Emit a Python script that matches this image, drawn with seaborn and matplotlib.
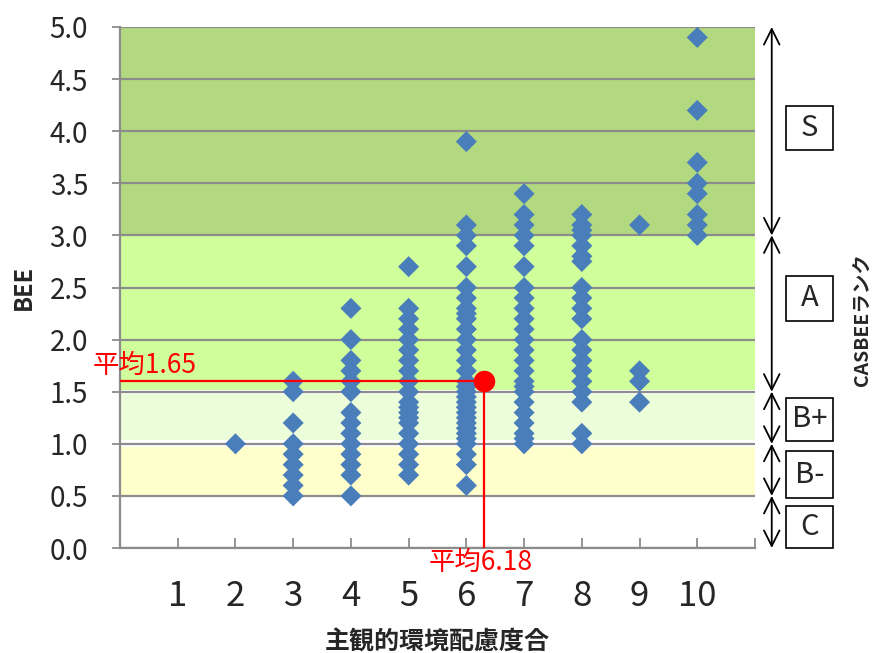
import pandas as pd
import matplotlib.pyplot as plt
from matplotlib.patches import Rectangle
import seaborn as sns

# BEE values, one list per self-rated score
bee_2 = [1.0]
bee_3 = [1.6, 1.5, 1.2, 1.0, 0.9, 0.8, 0.7, 0.6, 0.5]
bee_4 = [2.3, 2.0, 1.8, 1.7, 1.6, 1.5, 1.3, 1.2, 1.1, 1.0, 0.9, 0.8, 0.7, 0.5]
bee_5 = [2.7, 2.3, 2.2, 2.1, 2.0, 1.9, 1.8, 1.7, 1.6, 1.5, 1.4, 1.35, 1.3, 1.25,
         1.2, 1.1, 1.0, 0.9, 0.8, 0.7]
bee_6 = [3.9, 3.1, 3.0, 2.9, 2.7, 2.5, 2.4, 2.3, 2.25, 2.2, 2.1, 2.0, 1.9, 1.8,
         1.7, 1.6, 1.55, 1.5, 1.45, 1.4, 1.35, 1.3, 1.25, 1.2, 1.15, 1.1, 1.05,
         1.0, 0.9, 0.8, 0.6]
bee_7 = [3.4, 3.2, 3.1, 3.0, 2.9, 2.7, 2.5, 2.4, 2.3, 2.2, 2.1, 2.0, 1.9, 1.8,
         1.7, 1.6, 1.55, 1.5, 1.4, 1.3, 1.2, 1.1, 1.05, 1.0]
bee_8 = [3.2, 3.1, 3.05, 3.0, 2.9, 2.8, 2.75, 2.5, 2.4, 2.3, 2.2, 2.0, 1.9, 1.8,
         1.7, 1.6, 1.5, 1.4, 1.1, 1.0]
bee_9 = [3.1, 1.7, 1.6, 1.4]
bee_10 = [4.9, 4.2, 3.7, 3.5, 3.4, 3.2, 3.1, 3.0]

scores = [2, 3, 4, 5, 6, 7, 8, 9, 10]
bee_lists = [bee_2, bee_3, bee_4, bee_5, bee_6, bee_7, bee_8, bee_9, bee_10]

mean_x = 6.3
mean_y = 1.6
mean_x_label = '平均6.18'
mean_y_label = '平均1.65'

x_ticks = list(range(0, 12))
x_tick_labels = [''] + [str(i) for i in range(1, 11)] + ['']
y_ticks = [0.0, 0.5, 1.0, 1.5, 2.0, 2.5, 3.0, 3.5, 4.0, 4.5, 5.0]

# CASBEE rank bands
rank_names = ['S', 'A', 'B+', 'B-', 'C']
rank_top = [5.0, 3.0, 1.5, 1.0, 0.5]
rank_bottom = [3.0, 1.5, 1.0, 0.5, 0.0]

rows = []
for s, vals in zip(scores, bee_lists):
    for v in vals:
        rows.append({'score': s, 'BEE': v})
df = pd.DataFrame(rows)

sns.set_style('white')
plt.rcParams['font.family'] = ['Noto Sans CJK JP', 'DejaVu Sans']

fig = plt.figure(figsize=(8.74, 6.53), dpi=100)
ax = fig.add_axes([120 / 874, 105 / 653, 635 / 874, 521 / 653])

# background bands
ax.axhspan(3.0, 5.0, color='#b2d980', lw=0, zorder=0.2)
ax.axhspan(1.52, 3.0, color='#d0fe9b', lw=0, zorder=0.2)
ax.axhspan(1.04, 1.48, color='#ebfdd9', lw=0, zorder=0.2)
ax.axhspan(0.5, 0.97, color='#ffffcc', lw=0, zorder=0.2)

ax.set_axisbelow(True)
ax.yaxis.grid(True, color='#8c8c8c', lw=1.6)
ax.xaxis.grid(False)

sns.scatterplot(data=df, x='score', y='BEE', marker='D', s=115,
                color='#4a7ebb', edgecolor='none', ax=ax, zorder=3)

# mean point and guide lines
ax.plot([0, mean_x], [mean_y, mean_y], color='red', lw=1.6, zorder=4)
ax.plot([mean_x, mean_x], [mean_y, 0], color='red', lw=1.6, zorder=4)
ax.scatter([mean_x], [mean_y], s=210, color='red', zorder=5)
ax.text(1.33, mean_y + 0.02, mean_y_label, color='red', fontsize=19,
        ha='right', va='bottom')
ax.text(7.15, -0.01, mean_x_label, color='red', fontsize=19,
        ha='right', va='top')

ax.set_xlim(0, 11)
ax.set_ylim(0, 5)
ax.set_xticks(x_ticks)
ax.set_xticklabels(x_tick_labels)
ax.set_yticks(y_ticks)
ax.set_yticklabels([f'{v:.1f}' for v in y_ticks])

for side in ['top', 'right']:
    ax.spines[side].set_visible(False)
for side in ['left', 'bottom']:
    ax.spines[side].set_color('#8c8c8c')
    ax.spines[side].set_linewidth(1.6)

ax.tick_params(axis='y', direction='out', length=6, width=1.3,
               color='#8c8c8c', labelsize=20, pad=17, left=True)
ax.tick_params(axis='x', direction='in', length=7, width=1.3,
               color='#8c8c8c', labelsize=25, pad=22, bottom=True)

ax.set_xlabel('主観的環境配慮度合', fontsize=18, fontweight='bold', labelpad=12)
ax.set_ylabel('BEE', fontsize=17, fontweight='bold', labelpad=10)

# rank arrows and boxes on the right
arrow_x = 11.29
box_left = 11.54
box_width = 0.81
box_ranges = [(3.82, 4.24), (2.18, 2.61), (1.03, 1.44), (0.48, 0.93), (0.0, 0.4)]
for name, top, bottom, (b0, b1) in zip(rank_names, rank_top, rank_bottom, box_ranges):
    ax.annotate('', xy=(arrow_x, bottom), xytext=(arrow_x, top),
                arrowprops=dict(arrowstyle='<->', lw=1.3, color='black',
                                mutation_scale=28, shrinkA=0, shrinkB=0),
                annotation_clip=False)
    ax.add_patch(Rectangle((box_left, b0), box_width, b1 - b0, fc='white',
                           ec='black', lw=1.2, clip_on=False, zorder=5))
    ax.text(box_left + box_width / 2, (b0 + b1) / 2, name, fontsize=21,
            ha='center', va='center', zorder=6, clip_on=False)

fig.text(862 / 874, 1 - 320 / 653, 'CASBEEランク', rotation=90, fontsize=14,
         fontweight='bold', ha='center', va='center')

fig.savefig('out.png', dpi=100)
